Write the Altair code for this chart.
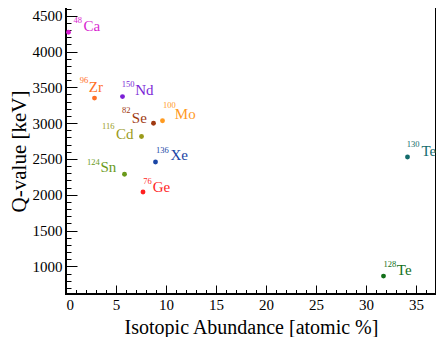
import altair as alt
import pandas as pd

# ---- data ----
mass = ["48", "96", "150", "82", "100", "116", "136", "124", "76", "130", "128"]
element = ["Ca", "Zr", "Nd", "Se", "Mo", "Cd", "Xe", "Sn", "Ge", "Te", "Te"]
abundance = [0.25, 2.85, 5.65, 8.75, 9.65, 7.55, 8.95, 5.85, 7.7, 34.15, 31.75]
qvalue = [4268, 3350, 3371, 2998, 3034, 2814, 2458, 2288, 2039, 2527, 866]

x_ticks = [0, 5, 10, 15, 20, 25, 30, 35]
y_ticks = [1000, 1500, 2000, 2500, 3000, 3500, 4000, 4500]
x_minor = list(range(0, 38))
y_minor = list(range(700, 4601, 100))

# ---- styles ----
colors = ["#d81fd0", "#ff6f26", "#7b1fd6", "#a03a12", "#ff9a1f", "#9a9a1a",
          "#1a45a5", "#6a9a1a", "#ff1f1f", "#136b6b", "#13701a"]
# (superscript dx, dy, element dx, dy) in pixels relative to the point
label_offsets = [
    (5, -9, 15, -1),
    (-14.7, -15, -5.7, -6),
    (-0.7, -9.3, 12.7, -1.3),
    (-31.4, -10, -21.7, 0),
    (0.6, -12.4, 12.3, -2),
    (-39.4, -7.7, -25.4, 2.6),
    (0.6, -9, 15, -1.7),
    (-37.4, -9, -24, -1.7),
    (0.3, -8.4, 9.7, 0),
    (-0.7, -10, 14, -1),
    (0, -9.3, 13.3, -1),
]
FONT = "Liberation Serif"

iso = [m + e for m, e in zip(mass, element)]
df = pd.DataFrame({"iso": iso, "mass": mass, "element": element,
                   "abundance": abundance, "q": qvalue})

xs = alt.Scale(domain=[0, 37.0], nice=False, zero=False)
ys = alt.Scale(domain=[616, 4635], nice=False, zero=False)

points = alt.Chart(df).mark_circle(size=24, opacity=1).encode(
    x=alt.X("abundance:Q", scale=xs, axis=alt.Axis(
        orient="bottom", values=x_ticks, tickSize=9, offset=-9, domain=False, grid=False,
        tickColor="black", tickWidth=1, labelFont=FONT, labelFontSize=15, labelColor="black",
        labelPadding=3, format="d",
        title="Isotopic Abundance [atomic %]", titleFont=FONT, titleFontSize=20,
        titleFontWeight="normal", titleColor="black", titleBaseline="alphabetic",
        titleY=48, titleX=185, titleAlign="center")),
    y=alt.Y("q:Q", scale=ys, axis=alt.Axis(
        orient="left", values=y_ticks, tickSize=11, offset=-11, domain=False, grid=False,
        tickColor="black", tickWidth=1, labelFont=FONT, labelFontSize=15, labelColor="black",
        labelPadding=4, format="d",
        title="Q-value [keV]", titleFont=FONT, titleFontSize=21, titleFontWeight="normal",
        titleColor="black", titleAngle=270, titleBaseline="alphabetic", titleAlign="center",
        titleX=-52, titleY=145)),
    color=alt.Color("iso:N", scale=alt.Scale(domain=iso, range=colors), legend=None),
)

minor = alt.Chart(df).mark_point(opacity=0).encode(
    x=alt.X("abundance:Q", scale=xs, axis=alt.Axis(
        orient="bottom", values=x_minor, tickSize=4.5, offset=-4.5, domain=False, grid=False,
        labels=False, tickColor="black", tickWidth=1, title=None)),
    y=alt.Y("q:Q", scale=ys, axis=alt.Axis(
        orient="left", values=y_minor, tickSize=5, offset=-5, domain=False, grid=False,
        labels=False, tickColor="black", tickWidth=1, title=None)),
)

layers = [minor, points]
for i in range(len(iso)):
    sdx, sdy, ndx, ndy = label_offsets[i]
    base = alt.Chart(df).transform_filter(alt.datum.iso == iso[i])
    enc = dict(x=alt.X("abundance:Q", scale=xs, axis=None),
               y=alt.Y("q:Q", scale=ys, axis=None))
    layers.append(base.mark_text(align="left", baseline="alphabetic", dx=sdx, dy=sdy,
                                 fontSize=8.5, font=FONT, color=colors[i]).encode(
        text="mass:N", **enc))
    layers.append(base.mark_text(align="left", baseline="alphabetic", dx=ndx, dy=ndy,
                                 fontSize=15, font=FONT, color=colors[i]).encode(
        text="element:N", **enc))

chart = alt.layer(*layers).resolve_axis(x="independent", y="independent").properties(
    width=370, height=288,
    autosize=alt.AutoSizeParams(type="none"),
    padding={"left": 58, "top": -2, "right": 0, "bottom": 43},
    background="white",
).configure_view(stroke="black", strokeWidth=2)

chart.save("out.html", embed_options={"renderer": "svg", "actions": False})
